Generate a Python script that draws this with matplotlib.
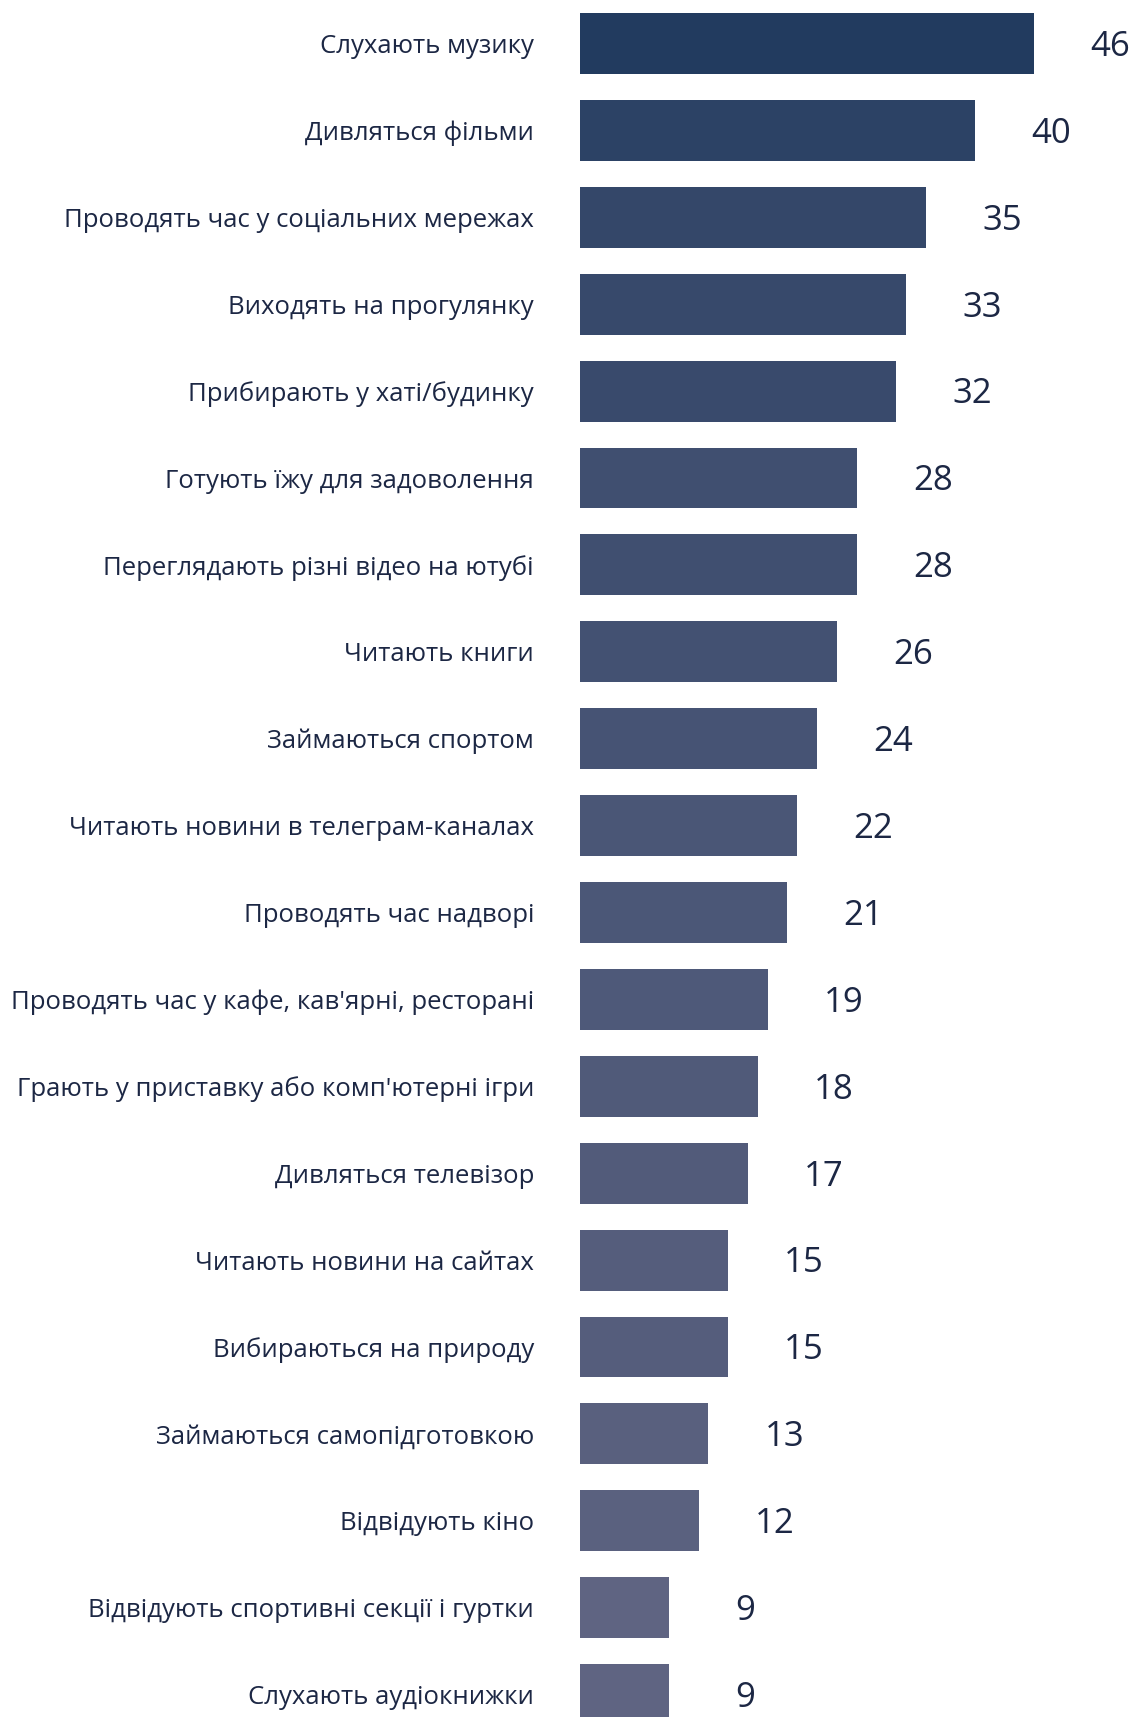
import matplotlib
matplotlib.use("Agg")
import matplotlib.pyplot as plt
from matplotlib.colors import LinearSegmentedColormap, Normalize

plt.rcParams['font.family'] = ['Open Sans', 'DejaVu Sans']

activities = [
    "Слухають музику",
    "Дивляться фільми",
    "Проводять час у соціальних мережах",
    "Виходять на прогулянку",
    "Прибирають у хаті/будинку",
    "Готують їжу для задоволення",
    "Переглядають різні відео на ютубі",
    "Читають книги",
    "Займаються спортом",
    "Читають новини в телеграм-каналах",
    "Проводять час надворі",
    "Проводять час у кафе, кав'ярні, ресторані",
    "Грають у приставку або комп'ютерні ігри",
    "Дивляться телевізор",
    "Читають новини на сайтах",
    "Вибираються на природу",
    "Займаються самопідготовкою",
    "Відвідують кіно",
    "Відвідують спортивні секції і гуртки",
    "Слухають аудіокнижки",
]
shares = [46, 40, 35, 33, 32, 28, 28, 26, 24, 22, 21, 19, 18, 17, 15, 15, 13, 12, 9, 9]

W, H, DPI = 1134, 1717, 100
fig = plt.figure(figsize=(W / DPI, H / DPI), dpi=DPI)
fig.patch.set_facecolor("white")

left_px = 580
ax = fig.add_axes([left_px / W, 0, 1 - left_px / W, 1])

# bar shade deepens with the share
cmap = LinearSegmentedColormap.from_list("navy", ["#5f6482", "#223b5f"])
norm = Normalize(vmin=min(shares), vmax=max(shares))
colors = [cmap(norm(v)) for v in shares]

pitch = 86.9
first_center = 43.5
ypos = list(range(len(activities)))
ax.barh(ypos, shares, height=0.70, color=colors, edgecolor="none")

px_per_unit = 9.88
ax.set_xlim(0, (W - left_px) / px_per_unit)
ax.set_ylim((H - first_center) / pitch, -first_center / pitch)

text_color = "#1c2744"
for y, v in zip(ypos, shares):
    ax.annotate(f"{v}", xy=(v, y), xytext=(76 * 72 / DPI, -2.4),
                textcoords="offset points", ha="center", va="center",
                fontsize=25, color=text_color)

ax.set_yticks(ypos)
ax.set_yticklabels(activities, fontsize=18.5, color=text_color)
ax.tick_params(axis="y", length=0, pad=46 * 72 / DPI)
ax.set_xticks([])
for s in ax.spines.values():
    s.set_visible(False)

fig.savefig("out.png", dpi=DPI, facecolor="white")
